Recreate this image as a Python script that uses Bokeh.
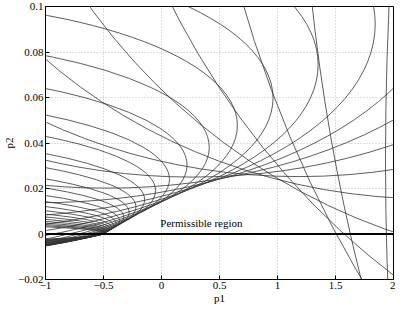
from bokeh.plotting import figure
from bokeh.embed import file_html
from bokeh.resources import INLINE
from bokeh.models import Span, Label, FixedTicker

# Tick values and labels
x_ticks = [-1, -0.5, 0, 0.5, 1, 1.5, 2]
x_labels = ["\u22121", "\u22120.5", "0", "0.5", "1", "1.5", "2"]
y_ticks = [-0.02, 0, 0.02, 0.04, 0.06, 0.08, 0.1]
y_labels = ["\u22120.02", "0", "0.02", "0.04", "0.06", "0.08", "0.1"]

# Family of constraint ellipses in the (p1, p2) plane: centre and full width / height
ell_cx = [-3.3253, -3.3232, -3.3205, -3.3171, -3.3128, -3.3073, -3.3004, -3.2916, -3.2804, -3.2664,
          -3.2485, -3.2260, -3.1974, -3.1612, -3.1155, -3.0576, -2.9843, -2.8917, -2.7746, -2.6266,
          -2.4398, -2.2041, -1.9069, -1.5327, -1.0625, -0.47263, 0.26525, 1.1851, 2.3266, 3.7346,
          5.4576, 7.5429, 10.029, 12.927, 16.201, 19.708, 23.126, 25.813, 26.583, 23.333]
ell_cy = [0.00044427, 0.00056258, 0.00071228, 0.00090191, 0.0011418, 0.0014457, 0.0018301, 0.0023166,
          0.0029321, 0.0037106, 0.0046947, 0.0059386, 0.0075095, 0.0094927, 0.011993, 0.015143,
          0.019106, 0.024081, 0.030312, 0.038092, 0.047766, 0.059729, 0.074424, 0.092293, 0.11375,
          0.13903, 0.16800, 0.19983, 0.23234, 0.26099, 0.27722, 0.26559, 0.19924, 0.032607, -0.31116,
          -0.95927, -2.1213, -4.1401, -7.5743, -13.333]
ell_w = [5.6712, 5.6724, 5.6739, 5.6759, 5.6783, 5.6814, 5.6854, 5.6904, 5.6967, 5.7047,
         5.7149, 5.7277, 5.7441, 5.7648, 5.7910, 5.8244, 5.8668, 5.9206, 5.9893, 6.0767,
         6.1883, 6.3312, 6.5144, 6.7502, 7.0548, 7.4502, 7.9663, 8.6449, 9.5439, 10.746,
         12.371, 14.593, 17.671, 21.992, 28.130, 36.997, 49.965, 69.179, 97.988, 141.67]
ell_h = [0.0094520, 0.010639, 0.011975, 0.013481, 0.015177, 0.017089, 0.019244, 0.021675, 0.024418,
         0.027518, 0.031022, 0.034989, 0.039486, 0.044596, 0.050414, 0.057059, 0.064679, 0.073453,
         0.083617, 0.095471, 0.10941, 0.12597, 0.14586, 0.17008, 0.20004, 0.23773, 0.28606, 0.34933,
         0.43400, 0.54992, 0.71243, 0.94572, 1.2887, 1.8047, 2.5977, 3.8448, 5.8431, 9.1043, 14.512,
         23.611]

FONT = "Liberation Serif"
p = figure(width=395, height=306, x_range=(-1, 2), y_range=(-0.02, 0.1),
           output_backend="svg", toolbar_location=None,
           min_border_left=38, min_border_right=2, min_border_top=6, min_border_bottom=10)
p.background_fill_color = "white"
p.border_fill_color = "white"
p.outline_line_color = "black"
p.outline_line_width = 1

p.ellipse(x=ell_cx, y=ell_cy, width=ell_w, height=ell_h, fill_color=None,
          line_color="#333333", line_width=0.8)
p.add_layout(Span(location=0, dimension="width", line_color="black", line_width=2.2))
p.add_layout(Label(x=-0.01, y=0.005, text="Permissible region", text_font=FONT,
                   text_font_size="11px", text_baseline="alphabetic", text_color="black"))

for axis, ticks, labels, lab in [(p.xaxis[0], x_ticks, x_labels, "p1"), (p.yaxis[0], y_ticks, y_labels, "p2")]:
    axis.ticker = FixedTicker(ticks=ticks)
    axis.major_label_overrides = {t: l for t, l in zip(ticks, labels)}
    axis.major_tick_in = 4
    axis.major_tick_out = 0
    axis.minor_tick_line_color = None
    axis.major_label_text_font = FONT
    axis.major_label_text_font_size = "11px"
    axis.major_label_text_color = "black"
    axis.axis_line_color = "black"
    axis.major_tick_line_color = "black"
    axis.major_label_standoff = 2
    axis.axis_label = lab
    axis.axis_label_text_font = FONT
    axis.axis_label_text_font_size = "11px"
    axis.axis_label_text_font_style = "normal"
    axis.axis_label_text_color = "black"
    axis.axis_label_standoff = 0

p.xgrid.ticker = FixedTicker(ticks=x_ticks)
p.ygrid.ticker = FixedTicker(ticks=y_ticks)
for g in (p.xgrid[0], p.ygrid[0]):
    g.grid_line_color = "#bdbdbd"
    g.grid_line_dash = "1 2"
    g.grid_line_width = 1

open("out.html", "w").write(file_html(p, INLINE))
